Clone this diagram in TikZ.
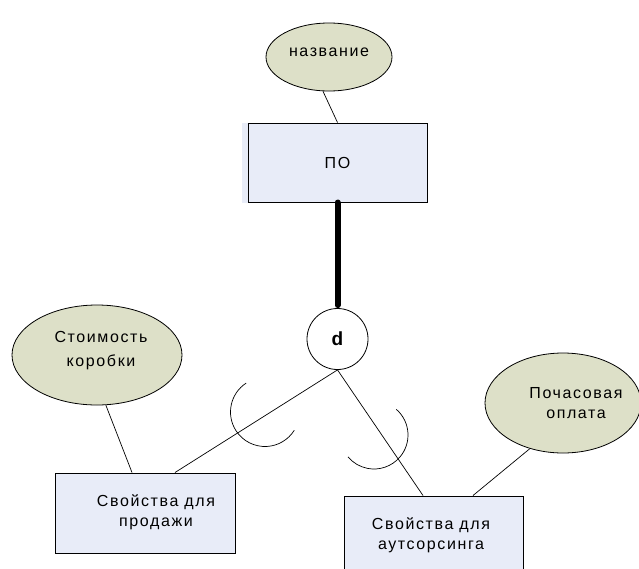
\documentclass[tikz,border=0pt]{standalone}
\usepackage{fontspec}
\setmainfont{Liberation Sans}[LetterSpace=10]
\usetikzlibrary{shapes.geometric,backgrounds}
\definecolor{attrfill}{RGB}{221,224,200}
\definecolor{entfill}{RGB}{232,236,248}
\tikzset{
  attr/.style={ellipse, draw, fill=attrfill, line width=0.8pt, inner sep=0pt},
  entity/.style={rectangle, draw, fill=entfill, line width=1pt, inner sep=0pt},
  disj/.style={circle, draw, fill=white, line width=0.8pt, inner sep=0pt,
    minimum size=61pt, font=\fontsize{19}{22}\selectfont\bfseries},
  txt/.style={font=\fontsize{16}{20}\selectfont, align=center, inner sep=0pt},
  link/.style={line width=0.7pt},
  heavy/.style={line width=6pt, line cap=round},
  subset/.style={line width=0.7pt},
}
\begin{document}
\begin{tikzpicture}[x=1pt,y=-1pt]
\useasboundingbox (0,0) rectangle (639,568);

% superclass and its attribute
\node[attr, minimum width=126pt, minimum height=68pt,
  label={[txt,yshift=5pt]center:название}] (name) at (329,57) {};
\node[entity, minimum width=179pt, minimum height=79pt, txt] (po) at (337.5,162.5) {ПО};

% disjointness circle
\node[disj] (d) at (337.5,339) {d};

% subclasses
\node[entity, minimum width=180pt, minimum height=80pt,
  label={[txt,xshift=11pt,yshift=0.5pt]center:Свойства для\\продажи}] (sale) at (145,513) {};
\node[entity, minimum width=179pt, minimum height=80pt,
  label={[txt,xshift=-2.5pt,yshift=0.5pt]center:Свойства для\\аутсорсинга}] (outs) at (433.5,536) {};

% subclass attributes
\node[attr, minimum width=170pt, minimum height=100pt,
  label={[txt,font=\fontsize{16}{24}\selectfont,xshift=4pt,yshift=4.5pt]center:Стоимость\\коробки}] (cost) at (97,355) {};
\node[attr, minimum width=156pt, minimum height=100pt,
  label={[txt,xshift=13pt,yshift=-0.5pt]center:Почасовая\\оплата}] (rate) at (563,403) {};

\begin{scope}[on background layer]
  % offset fill band of the superclass box
  \fill[entfill] ([xshift=-6pt]po.north west) rectangle ([xshift=-5pt]po.south east);
  % attribute links
  \draw[link] (name.-100) -- (po.north);
  \draw[link] (cost.-80) -- ([xshift=-13pt]sale.north);
  \draw[link] (rate.-126) -- ([xshift=39.5pt]outs.north);
  % specialisation links
  \draw[link] (d.south) -- ([xshift=30pt]sale.north);
  \draw[link] (d.south) -- ([xshift=-10.5pt]outs.north);
\end{scope}

% total participation
\draw[heavy, shorten >=3pt] (po.south) -- (d.north);

% subset symbols on the specialisation links
\draw[subset] (265,412) ++(-123:34.5) arc[start angle=-123, end angle=-328, radius=34.5];
\draw[subset] (374,435) ++(-49:34) arc[start angle=-49, end angle=140, radius=34];
\end{tikzpicture}
\end{document}
